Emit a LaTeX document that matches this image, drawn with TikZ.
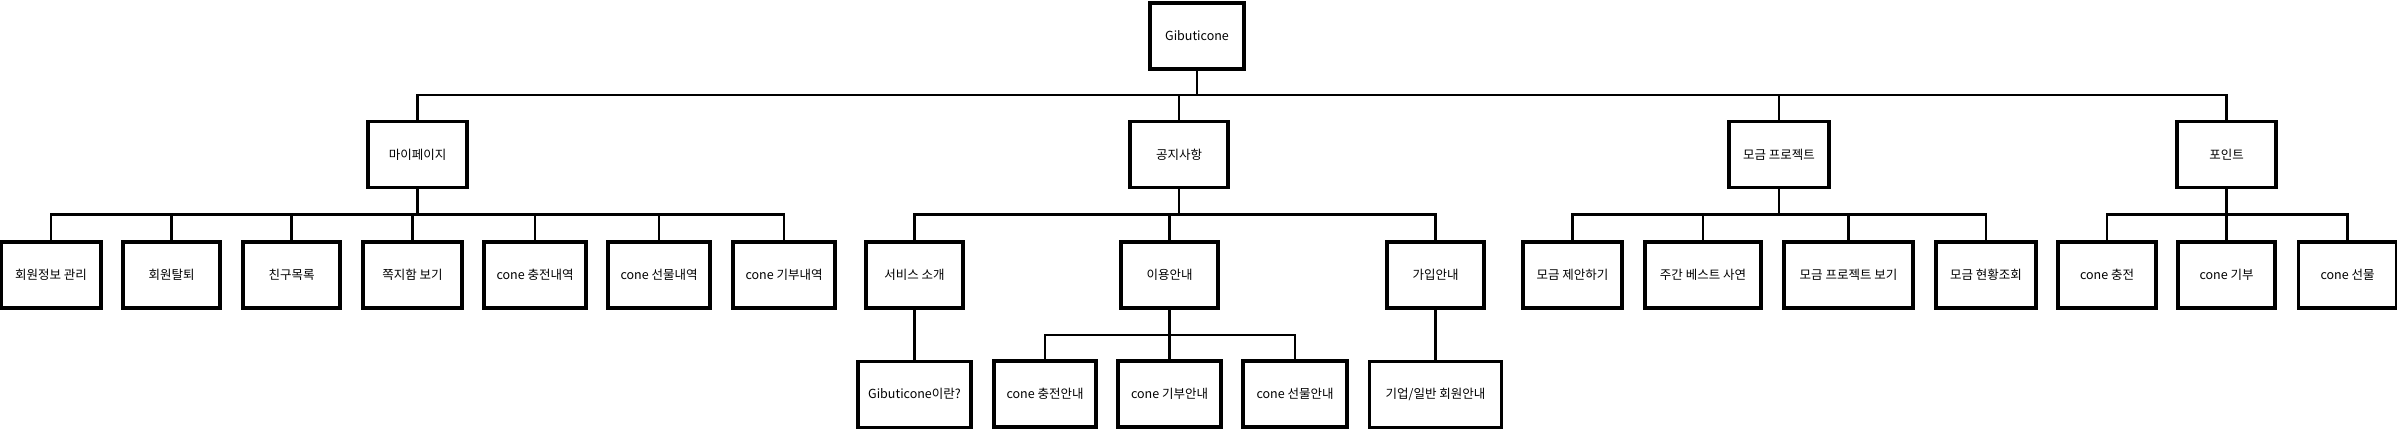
\documentclass[tikz,border=0pt]{standalone}
\usepackage{fontspec}
\setmainfont{Noto Sans CJK KR}
\usetikzlibrary{positioning}
\tikzset{
  menu/.style={draw, line width=3.2pt, fill=white, minimum width=97pt, minimum height=66pt,
    inner sep=3pt, font=\fontsize{12.5}{15}\selectfont},
  link/.style={line width=2.6pt}
}

\begin{document}
\begin{tikzpicture}[x=1pt, y=-1pt]
  \useasboundingbox (0,0) rectangle (2397,430);

  % bus lines of each level
  \coordinate (bus0) at (0,95);
  \coordinate (bus1) at (0,214.5);
  \coordinate (bus2) at (0,335);

  \node[menu, minimum width=94pt] (root) at (1197,36) {Gibuticone};

    \node[menu, minimum width=99pt] (mypage) at (417.5,154.5) {마이페이지};
    \node[menu, minimum width=98pt] (notice) at (1179,154.5) {공지사항};
    \node[menu, minimum width=100pt] (fund) at (1779,154.5) {모금 프로젝트};
    \node[menu, minimum width=99pt] (point) at (2226.5,154.5) {포인트};

      \node[menu, minimum width=100pt] (member) at (51,275) {회원정보 관리};
      \node[menu] (leave) at (171.5,275) {회원탈퇴};
      \node[menu] (friends) at (291.5,275) {친구목록};
      \node[menu, minimum width=99pt] (msgbox) at (412.5,275) {쪽지함 보기};
      \node[menu, minimum width=102pt] (conecharge) at (535,275) {cone 충전내역};
      \node[menu, minimum width=102pt] (conegift) at (659,275) {cone 선물내역};
      \node[menu, minimum width=102pt] (conedonate) at (784,275) {cone 기부내역};

      \node[menu] (intro) at (914.5,275) {서비스 소개};
      \node[menu] (usage) at (1169.5,275) {이용안내};
      \node[menu] (join) at (1435.5,275) {가입안내};

        \node[menu, minimum width=113pt] (whatis) [below=50pt of intro] {Gibuticone이란?};
        \node[menu, minimum width=102pt] (chargeguide) at (1045,394) {cone 충전안내};
        \node[menu, minimum width=103pt] (donateguide) at (1169.5,394) {cone 기부안내};
        \node[menu, minimum width=104pt] (giftguide) at (1295,394) {cone 선물안내};
        \node[menu, minimum width=132pt] (memberguide) [below=50pt of join] {기업/일반 회원안내};

      \node[menu, minimum width=99pt] (propose) at (1572.5,275) {모금 제안하기};
      \node[menu, minimum width=116pt] (weekbest) at (1703,275) {주간 베스트 사연};
      \node[menu, minimum width=129pt] (projects) at (1848.5,275) {모금 프로젝트 보기};
      \node[menu, minimum width=100pt] (status) at (1986,275) {모금 현황조회};

      \node[menu, minimum width=98pt] (charge) at (2107,275) {cone 충전};
      \node[menu] (donate) at (2226.5,275) {cone 기부};
      \node[menu, minimum width=98pt] (gift) at (2347.5,275) {cone 선물};

  % tree connectors
  \foreach \k in {mypage,notice,fund,point}
    \draw[link] (root.south) -- (root.south |- bus0) -| (\k.north);
  \foreach \k in {member,leave,friends,msgbox,conecharge,conegift,conedonate}
    \draw[link] (mypage.south) -- (mypage.south |- bus1) -| (\k.north);
  \foreach \k in {intro,usage,join}
    \draw[link] (notice.south) -- (notice.south |- bus1) -| (\k.north);
  \foreach \k in {propose,weekbest,projects,status}
    \draw[link] (fund.south) -- (fund.south |- bus1) -| (\k.north);
  \foreach \k in {charge,donate,gift}
    \draw[link] (point.south) -- (point.south |- bus1) -| (\k.north);
  \foreach \k in {chargeguide,donateguide,giftguide}
    \draw[link] (usage.south) -- (usage.south |- bus2) -| (\k.north);
  \draw[link] (intro) -- (whatis);
  \draw[link] (join) -- (memberguide);
\end{tikzpicture}
\end{document}
